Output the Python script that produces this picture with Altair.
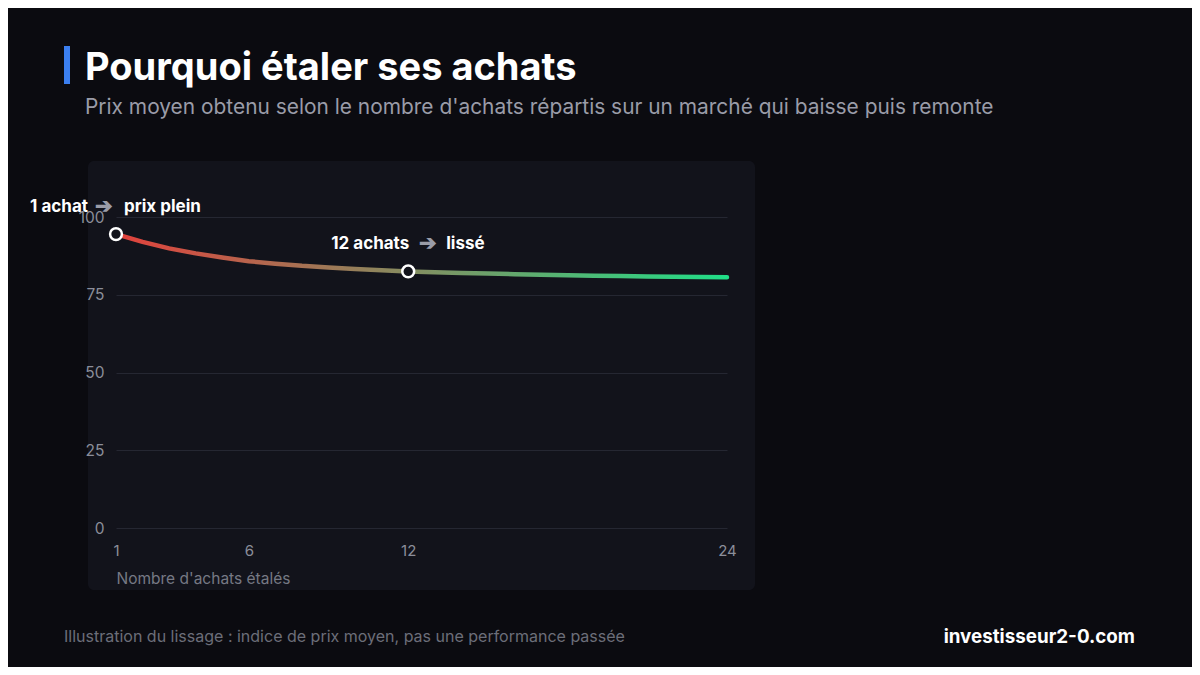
import altair as alt
import pandas as pd

# ---- data ----
purchases = list(range(1, 25))
avg_price = [94.5, 92.0, 89.9, 88.3, 87.0, 85.8, 85.0, 84.3, 83.8, 83.3, 82.9, 82.5,
             82.2, 82.0, 81.8, 81.6, 81.4, 81.3, 81.1, 81.0, 80.9, 80.8, 80.7, 80.6]
y_ticks = [0, 25, 50, 75, 100]
x_ticks = [1, 6, 12, 24]
title = "Pourquoi étaler ses achats"
subtitle = "Prix moyen obtenu selon le nombre d'achats répartis sur un marché qui baisse puis remonte"
footer_left = "Illustration du lissage : indice de prix moyen, pas une performance passée"
footer_right = "investisseur2-0.com"
x_title = "Nombre d'achats étalés"

df = pd.DataFrame({"n": purchases, "price": avg_price})
p1 = pd.DataFrame({"n": [1], "price": [avg_price[0]]})
p12 = pd.DataFrame({"n": [12], "price": [avg_price[11]]})

BG = "#0b0b10"
PANEL = "#12131b"
FONT = "Inter"
W, H = 611, 311

xs = alt.Scale(domain=[1, 24], nice=False)
ys = alt.Scale(domain=[0, 100], nice=False)

X = alt.X("n:Q", scale=xs,
          axis=alt.Axis(values=x_ticks, title=x_title, grid=False, domain=False, ticks=False,
                        labelFlush=False, labelPadding=15, labelFontSize=15,
                        labelColor="#8b8e9a", labelFont=FONT,
                        titleFont=FONT, titleFontSize=15.5, titleFontWeight="normal", titleColor="#767984",
                        titleX=0, titleY=50, titleAlign="left", titleBaseline="middle",
                        zindex=1))
Y = alt.Y("price:Q", scale=ys,
          axis=alt.Axis(values=y_ticks, title=None, grid=True, gridColor="#252732", gridWidth=1,
                        domain=False, ticks=False, labelPadding=12, labelFontSize=15.5,
                        labelColor="#8b8e9a", labelFont=FONT, zindex=1))

base = alt.Chart(df)

def deco_text(txt, x, y, size, color, weight="normal", align="left"):
    return alt.Chart(pd.DataFrame({"t": [txt]})).mark_text(
        align=align, baseline="alphabetic", font=FONT, fontSize=size, color=color,
        fontWeight=weight
    ).encode(text="t:N", x=alt.value(x), y=alt.value(y))

panel = alt.Chart(pd.DataFrame({"a": [0]})).mark_rect(
    color=PANEL, cornerRadius=6
).encode(x=alt.value(-28), x2=alt.value(639), y=alt.value(-56), y2=alt.value(373))

bar = alt.Chart(pd.DataFrame({"a": [0]})).mark_rect(color="#3b7ff0").encode(
    x=alt.value(-52), x2=alt.value(-46), y=alt.value(-171), y2=alt.value(-133))

line = base.mark_line(
    strokeWidth=4.5,
    strokeCap="round",
    stroke=alt.Gradient(
        gradient="linear",
        stops=[alt.GradientStop(color="#e2413c", offset=0),
               alt.GradientStop(color="#20df88", offset=1)],
        x1=0, x2=1, y1=0, y2=0,
    ),
).encode(x=X, y=Y)

def points(d):
    return alt.Chart(d).mark_point(
        shape="circle", size=140, filled=True, fill=PANEL, stroke="white", strokeWidth=2.5, opacity=1
    ).encode(x=alt.X("n:Q", scale=xs), y=alt.Y("price:Q", scale=ys))

def annot(d, left, right, dl, da, dr):
    common = dict(baseline="middle", font=FONT, dy=-27)
    enc = dict(x=alt.X("n:Q", scale=xs), y=alt.Y("price:Q", scale=ys))
    a = alt.Chart(d).mark_text(align="right", dx=dl, color="white", fontWeight="bold",
                               fontSize=17, text=left, **common).encode(**enc)
    b = alt.Chart(d).mark_text(align="center", dx=da, color="#9a9ca8", fontWeight="bold",
                               fontSize=21, text="➔", **common).encode(**enc)
    c = alt.Chart(d).mark_text(align="left", dx=dr, color="white", fontWeight="bold",
                               fontSize=17, text=right, **common).encode(**enc)
    return a + b + c

chart = alt.layer(
    panel,
    bar,
    deco_text(title, -31, -137, 38, "#ffffff", weight="bold"),
    deco_text(subtitle, -31, -103, 20.9, "#9a9ca8"),
    deco_text(footer_left, -52, 425, 16, "#6c6e79"),
    deco_text(footer_right, 1019, 426, 18.8, "#ffffff", weight="bold", align="right"),
    line,
    points(p1),
    points(p12),
    annot(p1, "1 achat", "prix plein", -28, -12, 8),
    annot(p12, "12 achats", "lissé", 1, 20, 38),
).properties(
    width=W, height=H,
    autosize=alt.AutoSizeParams(type="none"),
    padding={"left": 108, "top": 209, "right": 465, "bottom": 139},
    background=BG,
).configure_view(stroke=None)

chart.save("out.html", embed_options={"renderer": "svg", "actions": False})
